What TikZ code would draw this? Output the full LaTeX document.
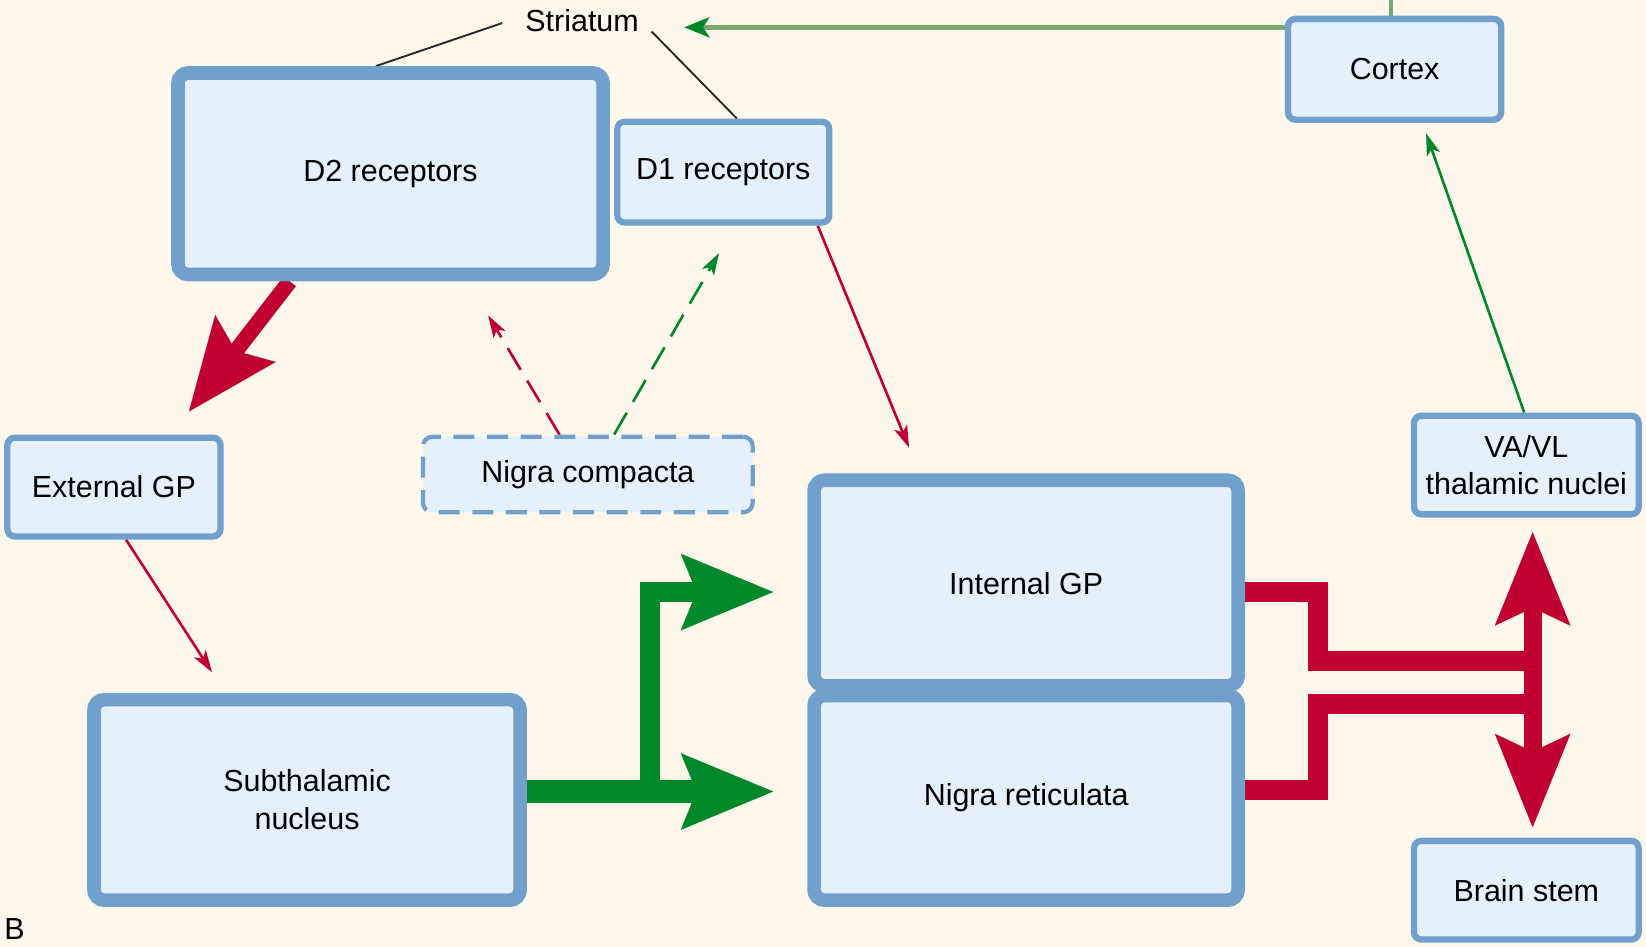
\documentclass[tikz,border=0pt]{standalone}
\usepackage{fontspec}
\setmainfont{Liberation Sans}
\usetikzlibrary{arrows.meta,calc}

\pgfdeclarelayer{background}
\pgfsetlayers{background,main}

\definecolor{paper}{RGB}{254,247,236}
\definecolor{boxfill}{RGB}{230,240,250}
\definecolor{boxline}{RGB}{112,160,203}
\definecolor{inhib}{RGB}{192,0,48}
\definecolor{excit}{RGB}{0,136,43}
\definecolor{excitsoft}{RGB}{116,170,112}
\definecolor{leader}{RGB}{40,40,40}

\tikzset{
  lbl/.style={font=\fontsize{29}{36}\selectfont, align=center, inner sep=0pt},
  region/.style={lbl, draw=boxline, fill=boxfill},
  thinbox/.style={region, line width=6pt, rounded corners=7pt},
  thickbox/.style={region, line width=13pt, rounded corners=10pt},
  dashbox/.style={region, line width=4pt, rounded corners=9pt, dash pattern=on 20pt off 12pt},
  leaderline/.style={draw=leader, line width=1.8pt},
  smalltip/.style={-{Stealth[length=21pt,width=13pt,inset=5pt]}},
  thinarrow/.style={line width=2.5pt, smalltip},
  dasharrow/.style={thinarrow, dash pattern=on 24pt off 12pt},
  bigtip/.style={-{Stealth[length=88pt,width=73pt,inset=15pt,line width=0.1pt]}},
  thickpath/.style={line join=miter, line cap=butt},
}

\begin{document}
\begin{tikzpicture}[x=1pt,y=-1pt]
\useasboundingbox (0,0) rectangle (1568,902);

% ---- regions ----
\node[lbl] (str) at (554.5,20) {Striatum};
\node[thickbox, minimum width=405pt, minimum height=192pt] (d2) at (372,165.5) {D2 receptors};
\node[thinbox, minimum width=202pt, minimum height=96pt] (d1) at (689,164) {D1 receptors};
\node[thinbox, minimum width=203pt, minimum height=96pt] (cortex) at (1328.5,66) {Cortex};
\node[thinbox, minimum width=203pt, minimum height=94pt] (extgp) at (108.5,464) {External GP};
\node[dashbox, minimum width=314pt, minimum height=72pt] (nc) at (560,452) {Nigra compacta};
\node[thinbox, minimum width=214pt, minimum height=94pt] (vavl) at (1454,443) {VA/VL\\thalamic nuclei};
\node[thinbox, minimum width=214pt, minimum height=94pt] (bstem) at (1454,848) {Brain stem};
\node[thickbox, minimum width=404pt, minimum height=196pt] (igp) at (977.5,555.5) {Internal GP};
\node[thickbox, minimum width=404pt, minimum height=195pt] (nr) at (977.5,760) {Nigra reticulata};
\node[thickbox, minimum width=406pt, minimum height=191pt] (stn) at (292.5,762) {Subthalamic\\nucleus};
\node[lbl, anchor=north west] (panel) at (4,875) {B};

% ---- helper points ----
\coordinate (cw) at ($(cortex.west)+(0,-40)$);
\coordinate (stip) at ($(str.east)+(43,0)$);
\coordinate (ctop) at ($(cortex.north)+(-3.5,-30)$);
\coordinate (gsplit) at ($(stn.east)+(117.5,-8)$);
\coordinate (tipNR) at ($(nr.west)+(-32.5,-6)$);
\coordinate (tipIGP) at ($(igp.west)+(-32.5,8.5)$);
\coordinate (barTop) at ($(vavl.south)+(6,14)$);
\coordinate (barBot) at ($(bstem.north)+(6,-10)$);
\coordinate (jU) at ($(barTop)+(0,123)$);
\coordinate (jL) at ($(barTop)+(0,164)$);

\begin{pgfonlayer}{background}
\fill[paper] (0,0) rectangle (1568,902);

% Striatum leader lines
\draw[leaderline] ($(str.west)+(-22,2)$) -- ($(d2.north)+(-14,0)$);
\draw[leaderline] ($(str.east)+(12,10)$) -- ($(d1.north)+(13,0)$);

% cortical input to the striatum
\draw[excitsoft, line width=4.5pt] (ctop) -- ($(cortex.north)+(-3.5,0)$);
\draw[excitsoft, line width=4.5pt, -{Stealth[length=24pt,width=19pt,inset=6pt,color=excit]}] (cw) -- (cw -| stip);

% thalamus to cortex
\draw[excit, thinarrow] ($(vavl.north)+(-2,0)$) -- ($(cortex.south)+(30,10)$);

% thin inhibitory projections
\draw[inhib, thinarrow] ($(d1.south)+(90,0)$) -- ($(igp.north)+(-111.5,-24.5)$);
\draw[inhib, thinarrow] ($(extgp.south)+(11.5,0)$) -- ($(stn.north)+(-90.5,-19.5)$);

% dopaminergic projections
\draw[inhib, dasharrow] ($(nc.north)+(-27,0)$) -- ($(d2.south)+(93,32.5)$);
\draw[excit, dasharrow] ($(nc.north)+(25,0)$) -- ($(d1.south)+(-4,26)$);

% strong indirect-pathway output
\draw[inhib, line width=15pt, bigtip] ($(d2.south)+(-96,0)$) -- ($(extgp.north)+(71.5,-22)$);

% subthalamic excitation
\draw[excit, thickpath, line width=22pt, bigtip] ($(stn.east)+(0,-8)$) -- (tipNR);
\draw[excit, thickpath, line width=19pt, bigtip] (gsplit) |- (tipIGP);

% basal ganglia output
\draw[inhib, thickpath, line width=19pt] ($(igp.east)+(0,8.5)$) -- ++(69.5,0) |- (jU);
\draw[inhib, thickpath, line width=19pt] ($(nr.east)+(0,-7)$) -- ++(69.5,0) |- (jL);
\draw[inhib, thickpath, line width=17pt,
  {Stealth[length=89pt,width=72pt,inset=17pt,line width=0.1pt]}-{Stealth[length=89pt,width=72pt,inset=17pt,line width=0.1pt]}]
  (barTop) -- (barBot);
\end{pgfonlayer}
\end{tikzpicture}
\end{document}
